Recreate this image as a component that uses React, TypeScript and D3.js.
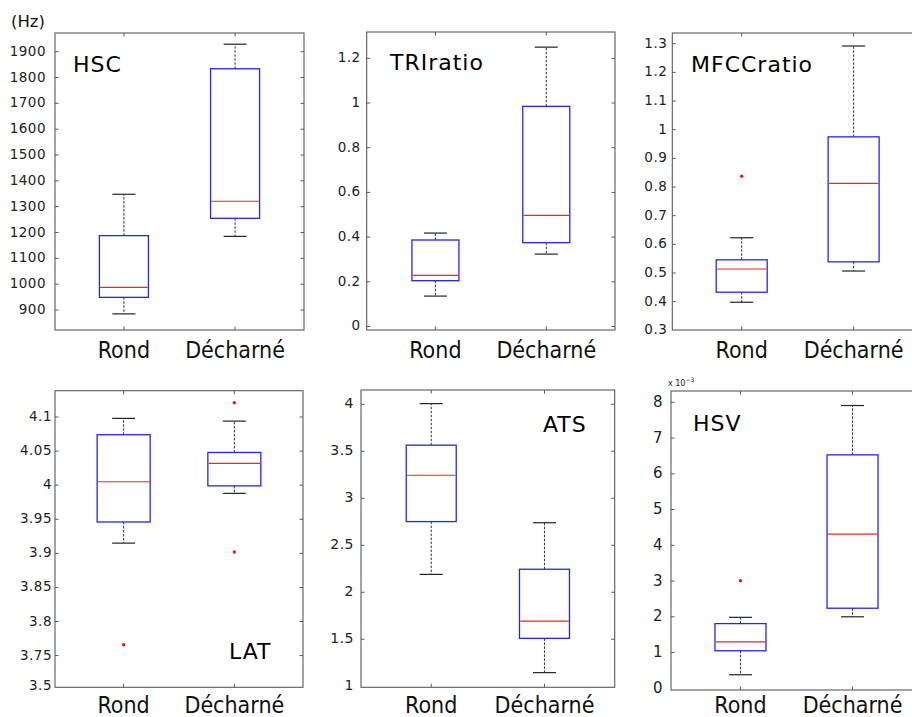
import React from "react";
import * as d3 from "d3";

// ---------- data ----------
const categories = ["Rond", "Décharné"];
const titles = ["HSC", "TRIratio", "MFCCratio", "LAT", "ATS", "HSV"];

// five-number summaries: [lower whisker, Q1, median, Q3, upper whisker]
const hscRond = [885, 949, 988, 1188, 1348];
const hscDecharne = [1185, 1255, 1321, 1834, 1929];
const hscOutRond: number[] = [];
const hscOutDecharne: number[] = [];

const triRond = [0.136, 0.205, 0.229, 0.387, 0.418];
const triDecharne = [0.324, 0.375, 0.497, 0.985, 1.25];
const triOutRond: number[] = [];
const triOutDecharne: number[] = [];

const mfccRond = [0.398, 0.433, 0.514, 0.546, 0.623];
const mfccDecharne = [0.507, 0.539, 0.813, 0.975, 1.292];
const mfccOutRond = [0.838];
const mfccOutDecharne: number[] = [];

const latRond = [3.915, 3.946, 4.005, 4.074, 4.098];
const latDecharne = [3.988, 3.999, 4.032, 4.048, 4.094];
const latOutRond = [3.766];
const latOutDecharne = [4.121, 3.902];

const atsRond = [2.19, 2.752, 3.245, 3.565, 4.007];
const atsDecharne = [1.145, 1.51, 1.692, 2.245, 2.74];
const atsOutRond: number[] = [];
const atsOutDecharne: number[] = [];

const hsvRond = [0.00038, 0.00105, 0.0013, 0.00181, 0.001985];
const hsvDecharne = [0.002, 0.00224, 0.00431, 0.00653, 0.00791];
const hsvOutRond = [0.00301];
const hsvOutDecharne: number[] = [];

// ticks
const hscTicks = [900, 1000, 1100, 1200, 1300, 1400, 1500, 1600, 1700, 1800, 1900];
const hscTickLabels = ["900", "1000", "1100", "1200", "1300", "1400", "1500", "1600", "1700", "1800", "1900"];
const triTicks = [0, 0.2, 0.4, 0.6, 0.8, 1, 1.2];
const triTickLabels = ["0", "0.2", "0.4", "0.6", "0.8", "1", "1.2"];
const mfccTicks = [0.3, 0.4, 0.5, 0.6, 0.7, 0.8, 0.9, 1, 1.1, 1.2, 1.3];
const mfccTickLabels = ["0.3", "0.4", "0.5", "0.6", "0.7", "0.8", "0.9", "1", "1.1", "1.2", "1.3"];
const latTicks = [3.706, 3.75, 3.8, 3.85, 3.9, 3.95, 4, 4.05, 4.1];
const latTickLabels = ["3.5", "3.75", "3.8", "3.85", "3.9", "3.95", "4", "4.05", "4.1"];
const atsTicks = [1, 1.5, 2, 2.5, 3, 3.5, 4];
const atsTickLabels = ["1", "1.5", "2", "2.5", "3", "3.5", "4"];
const hsvTicks = [0, 0.001, 0.002, 0.003, 0.004, 0.005, 0.006, 0.007, 0.008];
const hsvTickLabels = ["0", "1", "2", "3", "4", "5", "6", "7", "8"];

const panelData = [
  { stats: [hscRond, hscDecharne], outliers: [hscOutRond, hscOutDecharne], ticks: hscTicks, labels: hscTickLabels },
  { stats: [triRond, triDecharne], outliers: [triOutRond, triOutDecharne], ticks: triTicks, labels: triTickLabels },
  { stats: [mfccRond, mfccDecharne], outliers: [mfccOutRond, mfccOutDecharne], ticks: mfccTicks, labels: mfccTickLabels },
  { stats: [latRond, latDecharne], outliers: [latOutRond, latOutDecharne], ticks: latTicks, labels: latTickLabels },
  { stats: [atsRond, atsDecharne], outliers: [atsOutRond, atsOutDecharne], ticks: atsTicks, labels: atsTickLabels },
  { stats: [hsvRond, hsvDecharne], outliers: [hsvOutRond, hsvOutDecharne], ticks: hsvTicks, labels: hsvTickLabels },
];

// ---------- layout ----------
const layouts = [
  { l: 55, t: 33, r: 304, b: 330, domain: [822.6, 1972.4], gap: 9, boxW: 49, tx: 73, ty: 72, catY: 358, fs: 13.5, tick: false },
  { l: 366.7, t: 32, r: 615, b: 330, domain: [-0.0157, 1.3177], gap: 6, boxW: 47, tx: 390, ty: 70, catY: 358, fs: 13.5, tick: true },
  { l: 672.3, t: 33, r: 923, b: 330, domain: [0.3012, 1.3373], gap: 5, boxW: 51, tx: 691, ty: 72, catY: 358, fs: 13.5, tick: true },
  { l: 55, t: 390.7, r: 303, b: 687.3, domain: [3.7035, 4.1386], gap: 3, boxW: 53, tx: 229, ty: 659, catY: 713, fs: 13.5, tick: true },
  { l: 361, t: 390, r: 614.7, b: 687.3, domain: [0.989, 4.152], gap: 7, boxW: 50, tx: 543, ty: 432, catY: 713, fs: 14, tick: true },
  { l: 671, t: 391, r: 922, b: 690, domain: [-0.0000476, 0.008316], gap: 8, boxW: 51, tx: 693, ty: 431, catY: 713, fs: 15, tick: true },
];

const BOX = "#2323ff";
const MED = "#ff2020";
const SPINE = "#5a5a5a";

function Panel({ idx }: { idx: number }) {
  const L = layouts[idx];
  const D = panelData[idx];
  const y = d3.scaleLinear().domain(L.domain).range([L.b, L.t]);
  const x = d3.scalePoint<string>().domain(categories).range([L.l, L.r]).padding(0.62);
  const capW = 23;
  const tickLen = 3.5;

  return (
    <g>
      {/* y ticks & labels */}
      {D.ticks.map((v, i) => {
        const yy = y(v);
        const isEdge = Math.abs(yy - L.b) < 3;
        return (
          <g key={"yt" + i}>
            {!isEdge && (
              <>
                <line x1={L.l} x2={L.l + tickLen} y1={yy} y2={yy} stroke={SPINE} strokeWidth={1} />
                <line x1={L.r} x2={L.r - tickLen} y1={yy} y2={yy} stroke={SPINE} strokeWidth={1} />
              </>
            )}
            <text
              x={L.l - L.gap}
              y={yy}
              textAnchor="end"
              dominantBaseline="middle"
              fontFamily="DejaVu Sans"
              fontSize={L.fs}
              letterSpacing={0.5}
              fill="#222"
            >
              {D.labels[i]}
            </text>
          </g>
        );
      })}
      {/* x ticks & category labels */}
      {categories.map((c) => (
        <g key={"xt" + c}>
          <line x1={x(c)} x2={x(c)} y1={L.b} y2={L.b - tickLen} stroke={SPINE} strokeWidth={1} />
          <line x1={x(c)} x2={x(c)} y1={L.t} y2={L.t + tickLen} stroke={SPINE} strokeWidth={1} />
          <text
            x={x(c)}
            y={L.catY}
            textAnchor="middle"
            fontFamily="DejaVu Sans Condensed, DejaVu Sans"
            fontSize={23}
            fill="#111"
          >
            {c}
          </text>
        </g>
      ))}
      {/* boxes */}
      {categories.map((c, ci) => {
        const [lw, q1, med, q3, uw] = D.stats[ci];
        const cx = x(c) as number;
        const bw = L.boxW;
        return (
          <g key={"bx" + c}>
            <line x1={cx} x2={cx} y1={y(q3)} y2={y(uw)} stroke="#333" strokeWidth={1} strokeDasharray="2.5,1.5" />
            <line x1={cx} x2={cx} y1={y(q1)} y2={y(lw)} stroke="#333" strokeWidth={1} strokeDasharray="2.5,1.5" />
            <line x1={cx - capW / 2} x2={cx + capW / 2} y1={y(uw)} y2={y(uw)} stroke="#222" strokeWidth={1.2} />
            <line x1={cx - capW / 2} x2={cx + capW / 2} y1={y(lw)} y2={y(lw)} stroke="#222" strokeWidth={1.2} />
            <rect
              x={cx - bw / 2}
              y={y(q3)}
              width={bw}
              height={y(q1) - y(q3)}
              fill="white"
              stroke={BOX}
              strokeWidth={1.3}
            />
            <line x1={cx - bw / 2 + 0.7} x2={cx + bw / 2 - 0.7} y1={y(med)} y2={y(med)} stroke={MED} strokeWidth={1.2} />
            {D.outliers[ci].map((o, oi) => (
              <circle key={oi} cx={cx} cy={y(o)} r={1.7} fill="#ff1010" />
            ))}
          </g>
        );
      })}
      {/* frame */}
      <rect x={L.l} y={L.t} width={L.r - L.l} height={L.b - L.t} fill="none" stroke={SPINE} strokeWidth={1.1} />
      {/* title */}
      <text x={L.tx} y={L.ty} fontFamily="DejaVu Sans" fontSize={22} letterSpacing={1} fill="#000">
        {titles[idx]}
      </text>
    </g>
  );
}

export default function App() {
  return (
    <svg
      width={912}
      height={717}
      viewBox="0 0 912 717"
      style={{ position: "absolute", left: 0, top: 0, background: "white" }}
    >
      <rect x={0} y={0} width={912} height={717} fill="white" />
      {[0, 1, 2, 3, 4, 5].map((i) => (
        <Panel key={i} idx={i} />
      ))}
      <text x={11} y={27} fontFamily="DejaVu Sans" fontSize={16.5} fill="#111">
        (Hz)
      </text>
      <text x={668} y={386} fontFamily="DejaVu Sans" fontSize={8} fill="#222">
        x 10
        <tspan dy={-4} fontSize={6}>
          −3
        </tspan>
      </text>
    </svg>
  );
}
